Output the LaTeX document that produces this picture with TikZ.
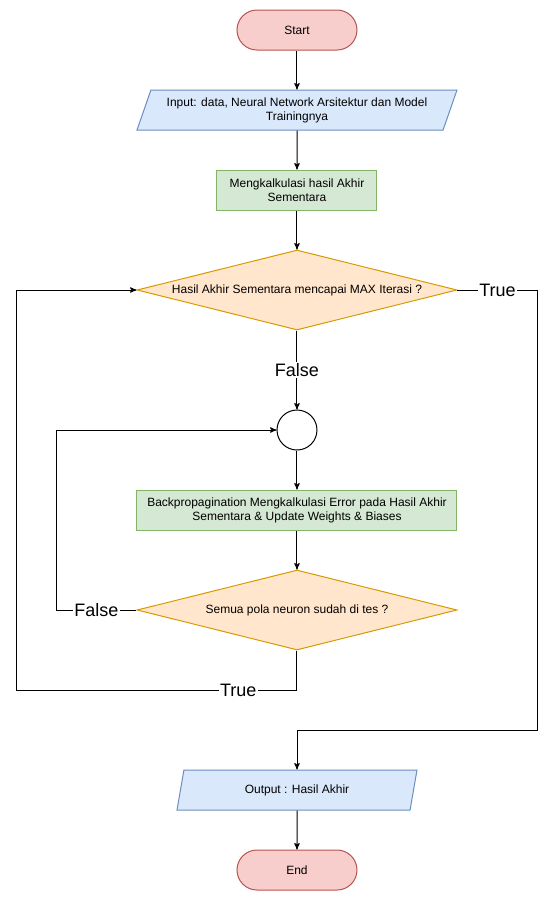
\documentclass[tikz,border=0pt]{standalone}
\usepackage{fontspec}
\setmainfont{Liberation Sans}
\usepackage{tikz}
\usetikzlibrary{arrows,shapes.geometric}

\definecolor{termfill}{HTML}{F8CECC}
\definecolor{termdraw}{HTML}{B85450}
\definecolor{iofill}{HTML}{DAE8FC}
\definecolor{iodraw}{HTML}{6C8EBF}
\definecolor{procfill}{HTML}{D5E8D4}
\definecolor{procdraw}{HTML}{82B366}
\definecolor{decfill}{HTML}{FFE6CC}
\definecolor{decdraw}{HTML}{D79B00}

\begin{document}
\begin{tikzpicture}[node distance=60pt,>=stealth',line width=0.75pt,
		font=\fontsize{9}{10.5}\selectfont]
		\tikzstyle{terminal}=[rectangle, rounded corners=15pt, draw=termdraw, fill=termfill, minimum width=90pt, minimum height=30pt]
		\tikzstyle{io}=[trapezium, trapezium left angle=63.43, trapezium right angle=116.57, trapezium stretches body, draw=iodraw, fill=iofill, minimum height=30pt, align=center, inner sep=1pt]
		\tikzstyle{process}=[rectangle, draw=procdraw, fill=procfill, minimum height=30pt, align=center]
		\tikzstyle{decision}=[diamond, aspect=4, draw=decdraw, fill=decfill, minimum width=240pt, minimum height=60pt, inner sep=0pt]
		\tikzstyle{junction}=[circle, draw=black, minimum size=30pt, inner sep=0pt]
		\tikzstyle{lbl}=[fill=white, inner sep=1pt, font=\fontsize{13.5}{15}\selectfont]

		\useasboundingbox (-222.75pt,22.5pt) rectangle (195.75pt,-653.25pt);

		\node [terminal] (start) {Start};
		\node [io, minimum width=240pt] (input) [below of=start] {Input: data, Neural Network Arsitektur dan Model\\Trainingnya};
		\node [process, minimum width=120pt] (calc) [below of=input] {Mengkalkulasi hasil Akhir\\Sementara};
		\node [decision] (maxiter) [below of=calc, node distance=75pt] {Hasil Akhir Sementara mencapai MAX Iterasi ?};
		\node [junction] (join) [below of=maxiter, node distance=105pt] {};
		\node [process, minimum width=240pt] (backprop) [below of=join] {Backpropagination Mengkalkulasi Error pada Hasil Akhir\\Sementara \& Update Weights \& Biases};
		\node [decision] (tested) [below of=backprop, node distance=75pt] {Semua pola neuron sudah di tes ?};
		\node [io, minimum width=180pt] (output) [below of=tested, node distance=135pt] {Output : Hasil Akhir};
		\node [terminal] (end) [below of=output] {End};

		\draw [->] (start) -- (input);
		\draw [->] (input) -- (calc);
		\draw [->] (calc) -- (maxiter);
		\draw [->] (maxiter) -- node [lbl] {False} (join);
		\draw [->] (join) -- (backprop);
		\draw [->] (backprop) -- (tested);
		\draw [->] (tested.west) -- node [lbl] {False} ++(-60pt,0) |- (join.west);
		\draw [->] (tested.south) -- ++(0,-30pt) -- node [lbl, pos=0.21] {True} ++(-210pt,0) |- (maxiter.west);
		\draw [->] (maxiter.east) -- node [lbl] {True} ++(60pt,0) -- ++(0,-330pt) -| (output.north);
		\draw [->] (output) -- (end);
	\end{tikzpicture}
\end{document}
